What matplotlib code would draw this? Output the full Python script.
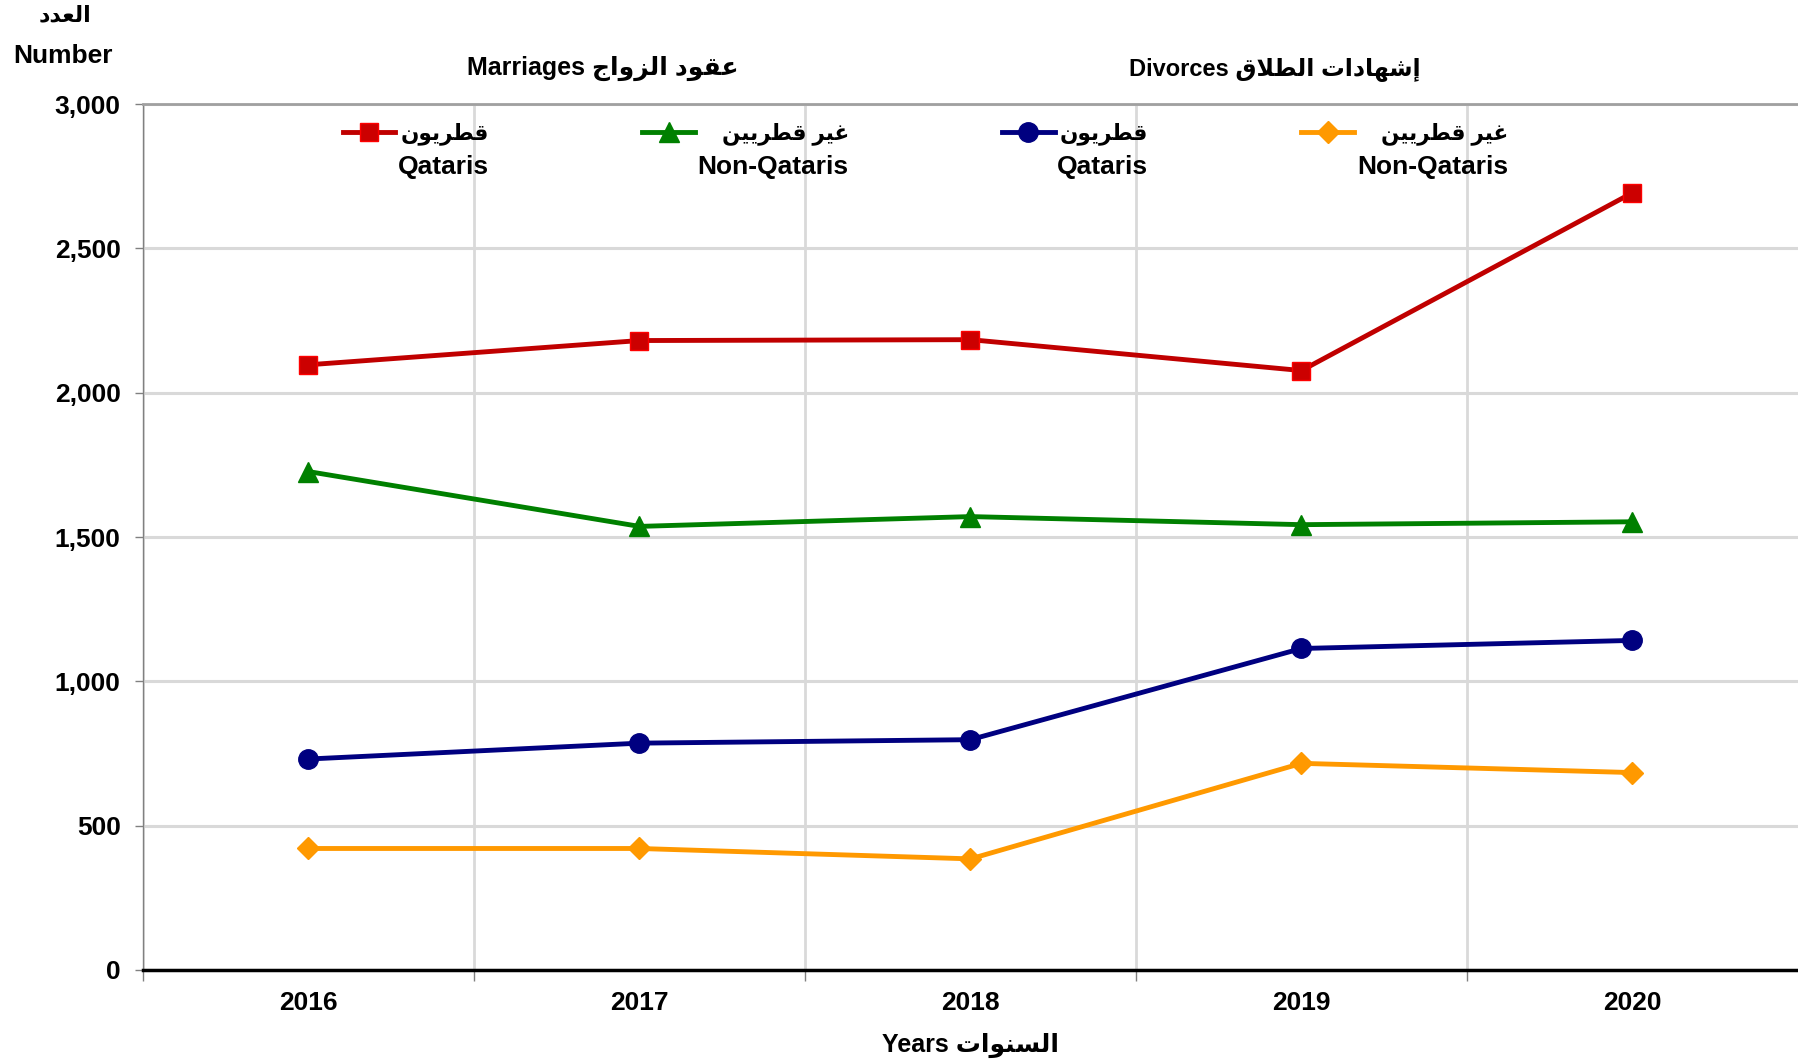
import numpy as np
import matplotlib
matplotlib.use("Agg")
import matplotlib.pyplot as plt
from matplotlib.legend_handler import HandlerLine2D
from matplotlib.ticker import FuncFormatter, MultipleLocator, FixedLocator

plt.rcParams['font.family'] = ['Liberation Sans', 'DejaVu Sans']
plt.rcParams['font.weight'] = 'bold'

years = ['2016', '2017', '2018', '2019', '2020']
marr_qataris = [2097, 2181, 2184, 2077, 2693]
marr_nonqataris = [1727, 1537, 1571, 1543, 1553]
div_qataris = [731, 786, 798, 1114, 1142]
div_nonqataris = [421, 421, 385, 716, 684]
labels_en = ['Qataris', 'Non-Qataris', 'Qataris', 'Non-Qataris']
labels_ar = ['قطريون', 'غير قطريين', 'قطريون', 'غير قطريين']

# matplotlib does no arabic shaping, so pick presentation forms by hand
FORMS = {
    'ا': ('\uFE8D', '\uFE8E', None, None),
    'إ': ('\uFE87', '\uFE88', None, None),
    'ت': ('\uFE95', '\uFE96', '\uFE97', '\uFE98'),
    'ج': ('\uFE9D', '\uFE9E', '\uFE9F', '\uFEA0'),
    'د': ('\uFEA9', '\uFEAA', None, None),
    'ر': ('\uFEAD', '\uFEAE', None, None),
    'ز': ('\uFEAF', '\uFEB0', None, None),
    'س': ('\uFEB1', '\uFEB2', '\uFEB3', '\uFEB4'),
    'ش': ('\uFEB5', '\uFEB6', '\uFEB7', '\uFEB8'),
    'ط': ('\uFEC1', '\uFEC2', '\uFEC3', '\uFEC4'),
    'ع': ('\uFEC9', '\uFECA', '\uFECB', '\uFECC'),
    'غ': ('\uFECD', '\uFECE', '\uFECF', '\uFED0'),
    'ق': ('\uFED5', '\uFED6', '\uFED7', '\uFED8'),
    'ل': ('\uFEDD', '\uFEDE', '\uFEDF', '\uFEE0'),
    'ن': ('\uFEE5', '\uFEE6', '\uFEE7', '\uFEE8'),
    'ه': ('\uFEE9', '\uFEEA', '\uFEEB', '\uFEEC'),
    'و': ('\uFEED', '\uFEEE', None, None),
    'ي': ('\uFEF1', '\uFEF2', '\uFEF3', '\uFEF4'),
}
LAM_ALEF = {'ا': ('\uFEFB', '\uFEFC'), 'إ': ('\uFEF9', '\uFEFA')}


def ar(text):
    chars = list(text)
    out = []
    i = 0
    while i < len(chars):
        c = chars[i]
        if c not in FORMS:
            out.append(c)
            i += 1
            continue
        prev = chars[i - 1] if i > 0 else None
        join_prev = prev in FORMS and FORMS[prev][2] is not None
        if c == 'ل' and i + 1 < len(chars) and chars[i + 1] in LAM_ALEF:
            out.append(LAM_ALEF[chars[i + 1]][1 if join_prev else 0])
            i += 2
            continue
        nxt = chars[i + 1] if i + 1 < len(chars) else None
        join_next = FORMS[c][2] is not None and nxt in FORMS
        iso, fin, ini, med = FORMS[c]
        if join_prev and join_next:
            out.append(med)
        elif join_prev:
            out.append(fin)
        elif join_next:
            out.append(ini)
        else:
            out.append(iso)
        i += 1
    return ''.join(reversed(out))


class UpperLine(HandlerLine2D):
    # lift the legend handle up to the arabic line above the label
    def create_artists(self, legend, orig_handle, xdescent, ydescent,
                       width, height, fontsize, trans):
        arts = super().create_artists(legend, orig_handle, xdescent, ydescent,
                                      width, height, fontsize, trans)
        for a in arts:
            a.set_ydata(np.asarray(a.get_ydata()) + 1.25 * fontsize)
        return arts


fig = plt.figure(figsize=(17.98, 10.63), dpi=100)
ax = fig.add_axes([0.0795, 0.0875, 0.9205, 0.8145])

x = np.arange(len(years))
ax.plot(x, marr_qataris, color='#C00000', lw=3.5, marker='s', ms=13,
        mfc='#CC0000', mec='#FF0000', mew=1, label=labels_en[0])
ax.plot(x, marr_nonqataris, color='#008000', lw=3.5, marker='^', ms=15,
        mfc='#008000', mec='#008000', label=labels_en[1])
ax.plot(x, div_qataris, color='#000080', lw=3.5, marker='o', ms=14,
        mfc='#000080', mec='#000080', label=labels_en[2])
ax.plot(x, div_nonqataris, color='#FF9900', lw=3.5, marker='D', ms=11,
        mfc='#FF9900', mec='#FF9900', label=labels_en[3])

ax.set_xlim(-0.5, 4.5)
ax.set_ylim(0, 3000)
ax.yaxis.set_major_locator(MultipleLocator(500))
ax.yaxis.set_major_formatter(FuncFormatter(lambda v, p: f'{int(v):,}'))
ax.set_xticks(x)
ax.set_xticklabels(years)
ax.xaxis.set_minor_locator(FixedLocator([-0.5, 0.5, 1.5, 2.5, 3.5]))

ax.grid(axis='y', color='#D9D9D9', lw=2.2)
ax.grid(axis='x', which='minor', color='#D9D9D9', lw=2)
ax.set_axisbelow(True)
ax.tick_params(axis='x', which='major', length=0, pad=15, labelsize=19)
ax.tick_params(axis='x', which='minor', length=8, color='#808080', width=1)
ax.tick_params(axis='y', length=6, color='#808080', width=1, pad=10, labelsize=19)

ax.spines['right'].set_visible(False)
ax.spines['left'].set_color('#808080')
ax.spines['left'].set_linewidth(1)
ax.spines['top'].set_color('#A0A0A0')
ax.spines['top'].set_linewidth(2)
ax.spines['bottom'].set_color('black')
ax.spines['bottom'].set_linewidth(2.5)

ax.set_xlabel('Years ' + ar('السنوات'), fontsize=18, fontweight='bold', labelpad=13)

fig.text(0.035, 0.9475, 'Number', fontsize=19, ha='center', va='center')
fig.text(0.036, 0.985, ar('العدد'), fontsize=16, ha='center', va='center')
fig.text(0.335, 0.9355, 'Marriages ' + ar('عقود الزواج'), fontsize=18,
         ha='center', va='center')
fig.text(0.709, 0.9355, 'Divorces ' + ar('إشهادات الطلاق'), fontsize=17,
         ha='center', va='center')

leg = ax.legend(loc='upper left', bbox_to_anchor=(0.1207, 0.941), ncol=4,
                frameon=False, fontsize=19, handlelength=2.0, handletextpad=0.1,
                columnspacing=5.8, borderaxespad=0, borderpad=0,
                handler_map={matplotlib.lines.Line2D: UpperLine()})
for h in leg.legend_handles:
    h.set_linewidth(3.5)

# arabic line of each legend entry, right aligned above the english one
fig.canvas.draw()
inv = fig.transFigure.inverted()
for t, lab in zip(leg.get_texts(), labels_ar):
    bb = t.get_window_extent().transformed(inv)
    fig.text(bb.x1, bb.y1 + 0.0096, ar(lab), fontsize=15.5, ha='right', va='bottom')

fig.savefig('out.png', dpi=100)
